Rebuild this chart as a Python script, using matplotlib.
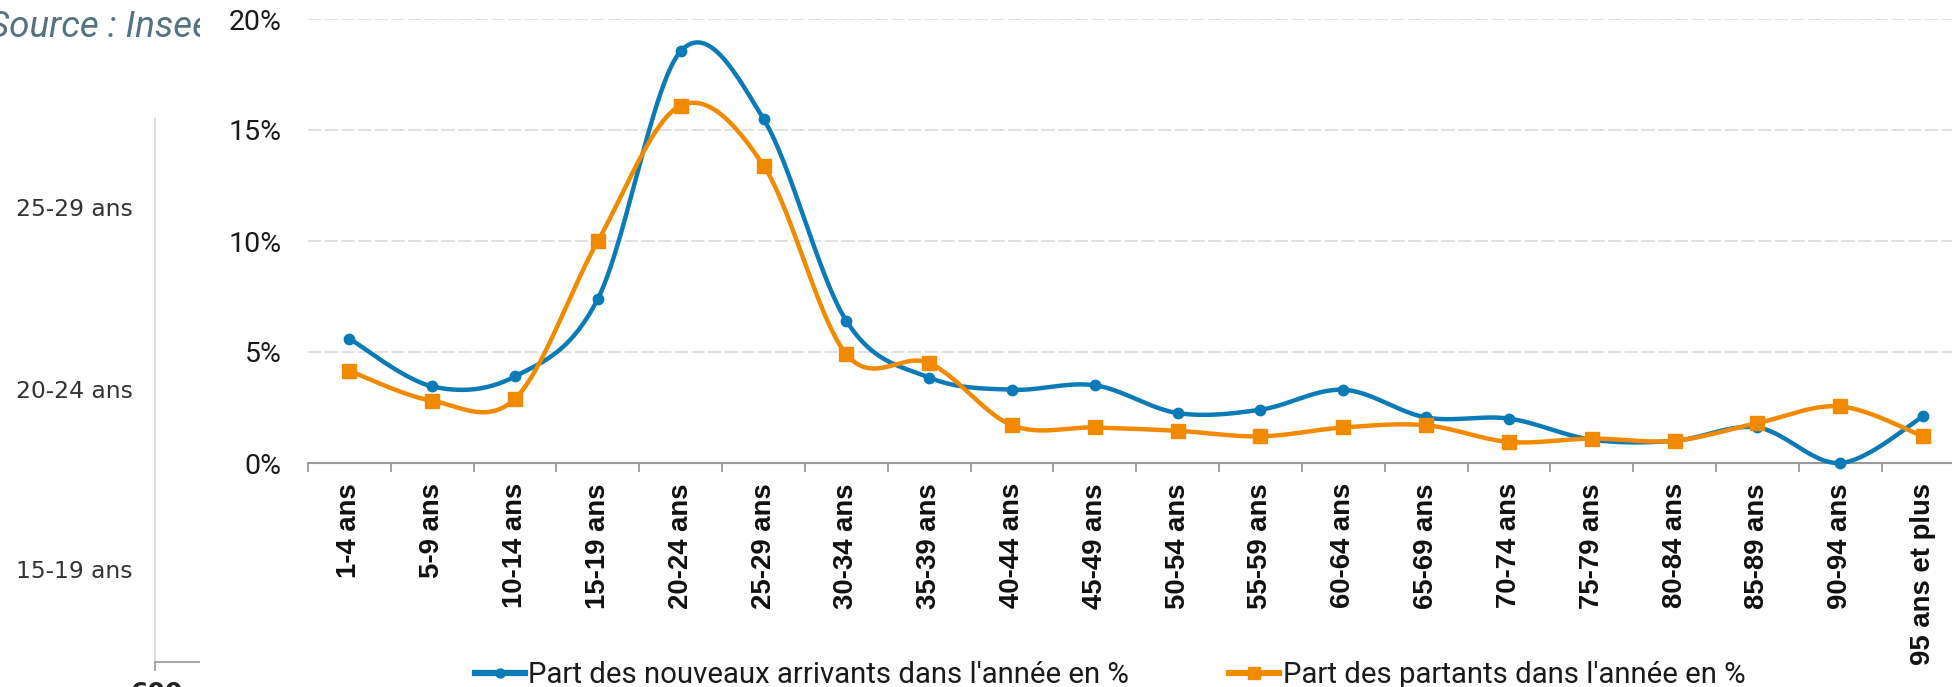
import numpy as np
import matplotlib
matplotlib.use("Agg")
import matplotlib.pyplot as plt
from matplotlib.lines import Line2D
from matplotlib.ticker import FixedLocator

# ---------------- data ----------------
categories = ["1-4 ans", "5-9 ans", "10-14 ans", "15-19 ans", "20-24 ans",
              "25-29 ans", "30-34 ans", "35-39 ans", "40-44 ans", "45-49 ans",
              "50-54 ans", "55-59 ans", "60-64 ans", "65-69 ans", "70-74 ans",
              "75-79 ans", "80-84 ans", "85-89 ans", "90-94 ans", "95 ans et plus"]
arrivants = [5.6, 3.45, 3.9, 7.4, 18.55, 15.5, 6.4, 3.85, 3.3, 3.5,
             2.25, 2.4, 3.3, 2.05, 2.0, 1.05, 1.0, 1.6, 0.0, 2.1]
partants = [4.15, 2.8, 2.9, 10.0, 16.1, 13.4, 4.9, 4.5, 1.7, 1.6,
            1.45, 1.2, 1.6, 1.7, 0.95, 1.1, 1.0, 1.8, 2.55, 1.2]
y_ticks = [0, 5, 10, 15, 20]
label_arr = "Part des nouveaux arrivants dans l'année en %"
label_par = "Part des partants dans l'année en %"
left_labels = ["25-29 ans", "20-24 ans", "15-19 ans"]

BLUE = "#0b7bb8"
ORANGE = "#f28a00"

W, H = 1952, 687
fig = plt.figure(figsize=(W / 100, H / 100), dpi=100)
fig.patch.set_facecolor("white")


def smooth(xs, ys, n=30):
    """Excel-like smoothed line (Catmull-Rom Bezier)."""
    xs = np.asarray(xs, float)
    ys = np.asarray(ys, float)
    px = np.concatenate([[xs[0]], xs, [xs[-1]]])
    py = np.concatenate([[ys[0]], ys, [ys[-1]]])
    outx, outy = [], []
    t = np.linspace(0, 1, n)
    for i in range(1, len(px) - 2):
        p0x, p1x, p2x, p3x = px[i - 1], px[i], px[i + 1], px[i + 2]
        p0y, p1y, p2y, p3y = py[i - 1], py[i], py[i + 1], py[i + 2]
        c1x, c1y = p1x + (p2x - p0x) / 6, p1y + (p2y - p0y) / 6
        c2x, c2y = p2x - (p3x - p1x) / 6, p2y - (p3y - p1y) / 6
        bx = (1 - t) ** 3 * p1x + 3 * (1 - t) ** 2 * t * c1x + 3 * (1 - t) * t ** 2 * c2x + t ** 3 * p2x
        by = (1 - t) ** 3 * p1y + 3 * (1 - t) ** 2 * t * c1y + 3 * (1 - t) * t ** 2 * c2y + t ** 3 * p2y
        outx.extend(bx)
        outy.extend(by)
    return np.array(outx), np.array(outy)


# ---------------- left (cropped neighbour chart) ----------------
axl = fig.add_axes([0, 0, 200 / W, 1])
axl.set_xlim(0, 200)
axl.set_ylim(H, 0)
axl.axis("off")
axl.text(-12, 37, "Source : Insee", fontsize=26.5, style="italic",
         family="Roboto", color="#557282", ha="left", va="baseline",
         clip_on=True)
axl.plot([155, 155], [118, 662], color="#dcdcdc", lw=1.3, clip_on=False)
axl.plot([155, 200], [662, 662], color="#a0a0a0", lw=1.3)
axl.plot([155, 155], [662, 670], color="#a0a0a0", lw=1.3)
for lab, yy in zip(left_labels, [209, 391, 572]):
    axl.text(133, yy, lab, fontsize=16.8, family="DejaVu Sans",
             color="#333333", ha="right", va="center")
axl.text(157, 681, "600", fontsize=18, fontweight="bold",
         family="DejaVu Sans", color="#222222", ha="center", va="top")

# ---------------- main chart ----------------
x0, x1 = 308, 1964.5
ytop, ybot = 19, 463
ax = fig.add_axes([x0 / W, (H - ybot) / H, (x1 - x0) / W, (ybot - ytop) / H])
ax.set_facecolor("none")
x = np.arange(len(categories))
ax.set_xlim(-0.5, len(categories) - 0.5)
ax.set_ylim(0, 20)

for v in y_ticks[1:]:
    ax.axhline(v, color="#dcdcdc", lw=1.2, ls=(0, (8, 2)), zorder=0)

sx, sy = smooth(x, arrivants)
ax.plot(sx, sy, color=BLUE, lw=3.2, zorder=3, clip_on=False,
        solid_capstyle="round")
ax.plot(x, arrivants, ls="none", marker="o", ms=7.5, color=BLUE,
        zorder=4, clip_on=False)
sx, sy = smooth(x, partants)
ax.plot(sx, sy, color=ORANGE, lw=3.2, zorder=5, clip_on=False,
        solid_capstyle="round")
ax.plot(x, partants, ls="none", marker="s", ms=10.5, color=ORANGE,
        zorder=6, clip_on=False)

for s in ["top", "right", "left"]:
    ax.spines[s].set_visible(False)
ax.spines["bottom"].set_color("#9a9a9a")
ax.spines["bottom"].set_linewidth(1.5)
ax.spines["bottom"].set_zorder(2)

ax.set_yticks(y_ticks)
ax.set_yticklabels([f"{v}%" for v in y_ticks], fontsize=20.5,
                   family="Roboto", color="#1a1a1a")
ax.tick_params(axis="y", length=0, pad=19)

ax.set_xticks(x)
ax.set_xticklabels(categories, rotation=90, fontsize=19.8,
                   fontweight="bold", family="Liberation Sans",
                   color="#111111")
ax.xaxis.set_minor_locator(FixedLocator(np.arange(-0.5, len(categories), 1.0)))
ax.tick_params(axis="x", which="major", length=0, pad=14.5)
ax.tick_params(axis="x", which="minor", length=6.5, width=1.3,
               color="#9a9a9a", direction="out")

# ---------------- legend ----------------
h1 = Line2D([], [], color=BLUE, lw=4.5, marker="o", ms=6.5)
h2 = Line2D([], [], color=ORANGE, lw=4.5, marker="s", ms=9)
leg = fig.legend([h1, h2], [label_arr, label_par], ncol=2, loc="center",
                 bbox_to_anchor=(1110 / W, 1 - 675 / H),
                 bbox_transform=fig.transFigure, frameon=False,
                 prop={"family": "Roboto", "size": 21.2},
                 handlelength=1.7, handletextpad=0.12, columnspacing=3.4,
                 borderpad=0, borderaxespad=0)
for t in leg.get_texts():
    t.set_color("#1a1a1a")

fig.savefig("out.png", dpi=100)
